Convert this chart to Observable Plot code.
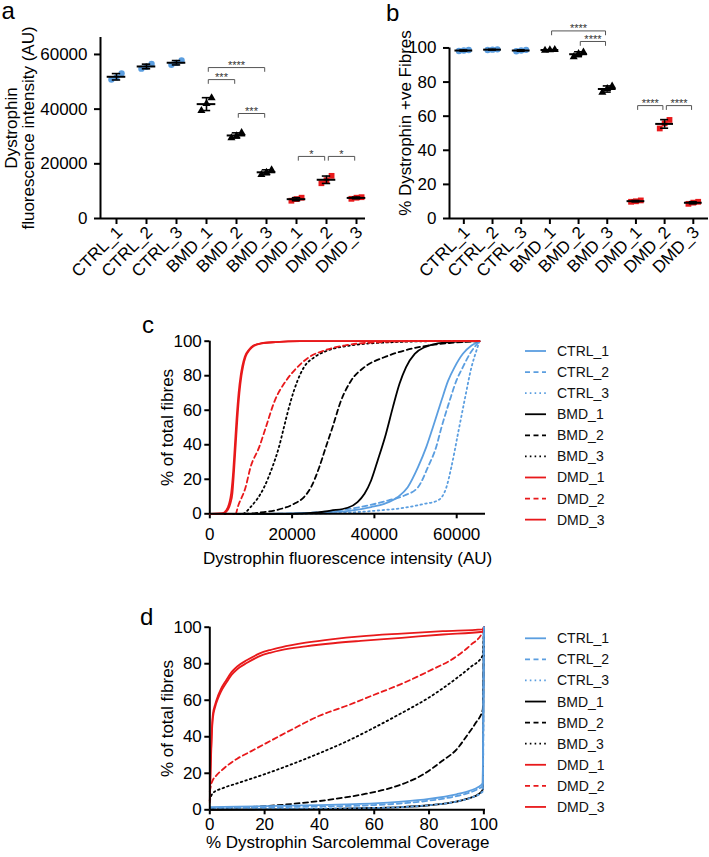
<!DOCTYPE html>
<html><head><meta charset="utf-8">
<script src="https://cdn.jsdelivr.net/npm/d3@7"></script>
<script src="https://cdn.jsdelivr.net/npm/@observablehq/plot@0.6"></script>
<style>
body{margin:0;background:#fff;}
#root{position:relative;width:709px;height:857px;overflow:hidden;background:#fff;font-family:"Liberation Sans",Arial,sans-serif;}
#root > svg{position:absolute;}
</style></head><body><div id="root"></div>
<script>
// ---------- data ----------
const groups = ["CTRL_1","CTRL_2","CTRL_3","BMD_1","BMD_2","BMD_3","DMD_1","DMD_2","DMD_3"];
// panel a: dystrophin fluorescence intensity (AU), three values per sample
const intensityAU = [
  [50800, 51600, 53100],
  [54800, 55500, 56500],
  [56200, 56900, 57800],
  [39400, 42000, 44100],
  [29500, 30200, 31400],
  [16000, 16900, 17800],
  [6500, 7100, 7600],
  [12900, 14000, 15600],
  [7200, 7600, 7800]
];
// panel b: % dystrophin positive fibres
const positivePct = [
  [98.2, 98.5, 98.8],
  [98.8, 99.0, 99.2],
  [98.1, 98.5, 98.9],
  [98.6, 98.8, 99.0],
  [94.8, 96.6, 97.6],
  [74.0, 76.2, 77.6],
  [9.8, 10.1, 10.6],
  [52.8, 55.8, 57.8],
  [8.6, 9.3, 9.8]
];
const sigA = [
  {from: "BMD_1", to: "BMD_3", y: 55200, label: "****"},
  {from: "BMD_1", to: "BMD_2", y: 50800, label: "***"},
  {from: "BMD_2", to: "BMD_3", y: 38400, label: "***"},
  {from: "DMD_1", to: "DMD_2", y: 22700, label: "*"},
  {from: "DMD_2", to: "DMD_3", y: 22700, label: "*"}
];
const sigB = [
  {from: "BMD_1", to: "BMD_3", y: 110, label: "****"},
  {from: "BMD_2", to: "BMD_3", y: 103.8, label: "****"},
  {from: "DMD_1", to: "DMD_2", y: 66.2, label: "****"},
  {from: "DMD_2", to: "DMD_3", y: 66.2, label: "****"}
];
const ticksA = [0, 20000, 40000, 60000];
const ticksB = [0, 20, 40, 60, 80, 100];
const ticksC = [0, 20000, 40000, 60000];
const ticksD = [0, 20, 40, 60, 80, 100];
const ticksPct = [0, 20, 40, 60, 80, 100];

// panel c: cumulative % of fibres vs intensity (AU)
const cdfInt_CTRL_1 = [[0,0],[14000,0],[27800,0.8],[34300,1.9],[39200,3.9],[42400,5.8],[45700,9.7],[48100,15.4],[50600,27],[52600,38.6],[54200,50],[56300,65.6],[57900,77],[59500,85],[61500,92.7],[63600,97.5],[65535,100]];
const cdfInt_CTRL_2 = [[0,0],[14000,0],[24000,0.6],[31000,1.9],[38400,4.8],[43300,7.7],[47300,10.6],[50600,15.4],[53000,27],[55000,38.6],[56300,50],[58300,65.6],[59900,77],[61500,85],[63200,92.7],[65535,100]];
const cdfInt_CTRL_3 = [[0,0],[20000,0],[34300,0.8],[40800,1.9],[47300,3.5],[52200,5.8],[55400,7.7],[57500,15.4],[58700,27],[60300,46.3],[61900,65.6],[63600,85],[64800,94.6],[65535,100]];
const cdfInt_BMD_1 = [[0,0],[19700,0],[26200,0.8],[29400,1.9],[33500,3.5],[35900,6.8],[37600,11.6],[39200,19.3],[40800,30.9],[42800,46.3],[44500,61.8],[46100,75.3],[47700,85],[49800,92.7],[52200,96.5],[55400,98.8],[60300,99.8],[65535,100]];
const cdfInt_BMD_2 = [[0,0],[8000,0],[13200,1],[16400,2.3],[20500,5.8],[22900,9.7],[24600,15.4],[26600,27],[28200,38.6],[29800,50],[31900,65.6],[34300,77],[37600,85],[42400,90.7],[47300,94.6],[53000,97.5],[58700,99],[65535,100]];
const cdfInt_BMD_3 = [[0,0],[7900,0],[9900,3.9],[13200,15.4],[15200,27],[16800,38.6],[18000,50],[19700,65.6],[21300,77],[22900,85],[25400,90.7],[28600,94.6],[34300,97.5],[44100,99.4],[55000,100],[65535,100]];
const cdfInt_DMD_1 = [[0,0],[3000,0.2],[4000,2],[4700,6],[5200,12],[5700,25],[6100,40],[6500,55],[7000,70],[7500,80],[7900,85.5],[8500,91],[9500,95],[10500,97.3],[12400,98.7],[16000,99.5],[22000,100],[65535,100]];
const cdfInt_DMD_2 = [[0,0],[6300,0],[6800,3.9],[8700,15.4],[9900,27],[12000,38.6],[13600,50],[15800,65.6],[18500,77],[21300,85],[24100,90.7],[27800,94.6],[32700,97.5],[40800,99.4],[50000,100],[65535,100]];
const cdfInt_DMD_3 = [[0,0],[3300,0.2],[4300,2],[5000,6],[5500,12],[5900,25],[6300,40],[6700,55],[7200,70],[7700,80],[8100,85.5],[8700,91],[9700,95],[10700,97.3],[12600,98.7],[16000,99.5],[22000,100],[65535,100]];

// panel d: cumulative % of fibres vs % sarcolemmal coverage
const cdfCov_CTRL_1 = [[0,1.5],[10,1.7],[20,2],[30,2.3],[40,2.6],[50,3],[60,3.5],[70,4.5],[80,6],[90,8.5],[95,10.5],[98,12.5],[99.6,14.5],[100,100]];
const cdfCov_CTRL_2 = [[0,1],[20,1.4],[40,1.8],[60,2.6],[70,3.5],[80,5],[90,7.5],[95,9.5],[98,11.5],[99.6,13],[100,100]];
const cdfCov_CTRL_3 = [[0,0.3],[20,0.5],[40,0.7],[60,1],[70,1.5],[80,2.5],[90,4.5],[95,6.5],[99.6,10],[100,100]];
const cdfCov_BMD_1 = [[0,0],[20,0.2],[40,0.4],[60,1],[70,1.5],[80,2.5],[90,4.5],[95,6.5],[98,8.5],[99.6,11],[100,100]];
const cdfCov_BMD_2 = [[0,0.3],[5,0.8],[15,1.5],[30,3.2],[46,6],[57,8.8],[67,12.4],[78,19.5],[85,27],[90,33],[94,41],[97,47.5],[99.6,55],[100,100]];
const cdfCov_BMD_3 = [[0,5],[1,9],[5,12],[10,14.5],[20,19.5],[30,25],[40,31],[50,37.5],[60,45],[70,53],[80,61.5],[90,72],[95,78],[99.6,84.5],[100,100]];
const cdfCov_DMD_1 = [[0,4],[0.3,22],[0.7,40],[1.1,50],[2,56.5],[3,61],[4,64.5],[6,69.5],[8,74],[10,77],[13.6,80.5],[18,84],[22,86],[26,87.5],[35,89.5],[45,91.2],[55,92.5],[70,94.2],[85,96],[99.6,97.5],[100,100]];
const cdfCov_DMD_2 = [[0,10],[0.5,14],[1,16],[2.5,19],[5,22.5],[10,28],[15,32],[20,36],[30,44],[40,51.5],[50,57],[60,63],[70,69],[80,76],[90,84],[95,90],[99.6,97.5],[100,100]];
const cdfCov_DMD_3 = [[0,5],[0.3,25],[0.7,42],[1.1,52],[2,58],[3,62.5],[4,66],[6,71],[8,75.5],[10,78.5],[13.6,82],[18,85.5],[22,87.5],[26,89],[35,91.5],[45,93.5],[55,95],[70,96.5],[85,97.8],[99.6,98.8],[100,100]];

// ---------- styles ----------
const BLUE = "#5b9ee0", RED = "#e8191b", BLACK = "#000";
const FONT = "'Liberation Sans', Arial, sans-serif";
const FS = 17;
const groupColor = g => g.startsWith("CTRL") ? BLUE : g.startsWith("BMD") ? BLACK : RED;
const groupSymbol = g => g.startsWith("CTRL") ? "circle" : g.startsWith("BMD") ? "triangle" : "square";
const groupR = g => g.startsWith("CTRL") ? 3.7 : g.startsWith("BMD") ? 3.3 : 3.9;
const dashFor = g => (g === "DMD_3" || g.endsWith("_1")) ? null : g.endsWith("_2") ? "5,3.5" : "1.6,3.2";

const root = document.getElementById("root");

function scatterPanel(values, opts) {
  const dots = [];
  const stats = [];
  values.forEach((vals, i) => {
    const g = groups[i];
    const sorted = vals.slice().sort((a, b) => a - b);
    sorted.forEach((v, j) => dots.push({x: i + (j - 1) * 0.17, y: v, g}));
    stats.push({i, g, mean: d3.mean(vals), sd: d3.deviation(vals)});
  });
  const br = [];
  opts.sig.forEach((s, k) => {
    const a = groups.indexOf(s.from) + 0.06, b = groups.indexOf(s.to) - 0.06;
    br.push({k, x: a, y: s.y - opts.drop}, {k, x: a, y: s.y}, {k, x: b, y: s.y}, {k, x: b, y: s.y - opts.drop});
  });
  const sigText = opts.sig.map(s => ({x: (groups.indexOf(s.from) + groups.indexOf(s.to)) / 2, y: s.y, label: s.label}));
  const tickLabels = groups.map((g, i) => ({i, g}));
  const p = Plot.plot({
    width: opts.width, height: opts.height,
    marginLeft: opts.ml, marginRight: opts.mr, marginTop: opts.mt, marginBottom: opts.mb,
    style: {fontFamily: FONT, fontSize: FS + "px", overflow: "visible", background: "transparent"},
    x: {domain: opts.xDomain, axis: null},
    y: {domain: opts.yDomain, axis: null},
    marks: [
      Plot.axisY({ticks: opts.ticks, tickFormat: "d", tickSize: 6, tickPadding: 7, strokeWidth: 2, fontSize: FS,
        label: opts.label, labelAnchor: "center", labelOffset: opts.labelOffset, labelArrow: "none"}),
      Plot.axisX({ticks: d3.range(groups.length), tickFormat: () => "", tickSize: 6, strokeWidth: 2, label: null}),
      Plot.text(tickLabels, {x: "i", y: 0, text: "g", rotate: -45, textAnchor: "end", lineAnchor: "middle",
        dx: 3, dy: 11, fontSize: FS}),
      Plot.ruleY([0], {strokeWidth: 2}),
      Plot.ruleX([opts.xDomain[0]], {y1: 0, y2: opts.axisTop, strokeWidth: 2}),
      Plot.dot(dots, {x: "x", y: "y", symbol: d => groupSymbol(d.g), fill: d => groupColor(d.g), r: d => groupR(d.g), stroke: "none"}),
      Plot.ruleY(stats, {x1: d => d.i - 0.31, x2: d => d.i + 0.31, y: "mean", strokeWidth: 2}),
      Plot.ruleX(stats, {x: "i", y1: d => d.mean - d.sd, y2: d => d.mean + d.sd, strokeWidth: 1.6}),
      Plot.ruleY(stats, {x1: d => d.i - 0.14, x2: d => d.i + 0.14, y: d => d.mean + d.sd, strokeWidth: 1.6}),
      Plot.ruleY(stats, {x1: d => d.i - 0.14, x2: d => d.i + 0.14, y: d => d.mean - d.sd, strokeWidth: 1.6}),
      Plot.line(br, {x: "x", y: "y", z: "k", stroke: "#555", strokeWidth: 1, curve: "linear"}),
      Plot.text(sigText, {x: "x", y: "y", text: "label", fontSize: 11, lineAnchor: "bottom", dy: 1.5, fill: "#333"})
    ]
  });
  p.style.left = opts.left + "px"; p.style.top = opts.top + "px";
  root.appendChild(p);
}

scatterPanel(intensityAU, {left: 0, top: 0, width: 370, height: 290, ml: 100, mr: 5, mt: 37, mb: 72,
  xDomain: [-0.533, 8.3], yDomain: [0, 66200], axisTop: 66200, ticks: ticksA, sig: sigA, drop: 1400,
  label: "Dystrophin\nfluorescence intensity (AU)", labelOffset: 96});
scatterPanel(positivePct, {left: 350, top: 0, width: 359, height: 290, ml: 99, mr: 1, mt: 27, mb: 72,
  xDomain: [-0.5, 8.53], yDomain: [0, 112], axisTop: 100, ticks: ticksB, sig: sigB, drop: 2.3,
  label: "% Dystrophin +ve Fibres", labelOffset: 51});

const cdfC = {CTRL_1: cdfInt_CTRL_1, CTRL_2: cdfInt_CTRL_2, CTRL_3: cdfInt_CTRL_3, BMD_1: cdfInt_BMD_1, BMD_2: cdfInt_BMD_2, BMD_3: cdfInt_BMD_3, DMD_1: cdfInt_DMD_1, DMD_2: cdfInt_DMD_2, DMD_3: cdfInt_DMD_3};
const cdfD = {CTRL_1: cdfCov_CTRL_1, CTRL_2: cdfCov_CTRL_2, CTRL_3: cdfCov_CTRL_3, BMD_1: cdfCov_BMD_1, BMD_2: cdfCov_BMD_2, BMD_3: cdfCov_BMD_3, DMD_1: cdfCov_DMD_1, DMD_2: cdfCov_DMD_2, DMD_3: cdfCov_DMD_3};

function cdfPanel(series, opts) {
  const lines = opts.order.map(g => Plot.line(series[g], {x: d => d[0], y: d => d[1], stroke: groupColor(g),
    strokeWidth: 1.8, strokeDasharray: dashFor(g), curve: "monotone-x"}));
  const p = Plot.plot({
    width: opts.width, height: opts.height,
    marginLeft: opts.ml, marginRight: opts.mr, marginTop: opts.mt, marginBottom: opts.mb,
    style: {fontFamily: FONT, fontSize: FS + "px", overflow: "visible", background: "transparent"},
    x: {domain: opts.xDomain, axis: null},
    y: {domain: [0, 100], axis: null},
    marks: [
      Plot.axisY({ticks: ticksPct, tickSize: 5, tickPadding: 3, strokeWidth: 2, fontSize: FS,
        label: "% of total fibres", labelAnchor: "center", labelOffset: 49, labelArrow: "none"}),
      Plot.axisX({ticks: opts.ticks, tickFormat: "d", tickSize: 5, tickPadding: opts.xPad, strokeWidth: 2, fontSize: FS,
        label: opts.label, labelAnchor: "center", labelOffset: opts.xLabelOffset, labelArrow: "none"}),
      ...lines,
      Plot.ruleY([0], {strokeWidth: 2}),
      Plot.ruleX([0], {strokeWidth: 2})
    ]
  });
  p.style.left = opts.left + "px"; p.style.top = opts.top + "px";
  root.appendChild(p);
}

cdfPanel(cdfC, {left: 130, top: 320, width: 370, height: 260, ml: 79.3, mr: 15, mt: 20.7, mb: 66.7,
  xDomain: [0, 67000], ticks: ticksC, xPad: 9, label: "Dystrophin fluorescence intensity (AU)", xLabelOffset: 50,
  order: ["CTRL_3","CTRL_2","CTRL_1","BMD_3","BMD_2","BMD_1","DMD_2","DMD_3","DMD_1"]});
cdfPanel(cdfD, {left: 130, top: 600, width: 370, height: 257, ml: 79.3, mr: 15, mt: 26.7, mb: 47.7,
  xDomain: [0, 100.6], ticks: ticksD, xPad: 3, label: "% Dystrophin Sarcolemmal Coverage", xLabelOffset: 38,
  order: ["BMD_3","BMD_2","BMD_1","DMD_2","DMD_3","DMD_1","CTRL_3","CTRL_2","CTRL_1"]});

// ---------- panel letters and legends ----------
const ov = d3.select(root).append("svg").attr("width", 709).attr("height", 857)
  .style("left", "0px").style("top", "0px").style("font-family", FONT);
[["a", 1.5, 18.5], ["b", 386, 20.5], ["c", 142, 333], ["d", 140, 625]].forEach(([t, x, y]) =>
  ov.append("text").attr("x", x).attr("y", y).attr("font-size", 24).text(t));
function legend(y0) {
  groups.forEach((g, i) => {
    const y = y0 + i * 21.08;
    ov.append("line").attr("x1", 525).attr("x2", 546).attr("y1", y).attr("y2", y)
      .attr("stroke", groupColor(g)).attr("stroke-width", 1.8).attr("stroke-dasharray", dashFor(g));
    ov.append("text").attr("x", 557).attr("y", y + 5).attr("font-size", 14).attr("fill", "#111").text(g);
  });
}
legend(351);
legend(638.3);
</script></body></html>
